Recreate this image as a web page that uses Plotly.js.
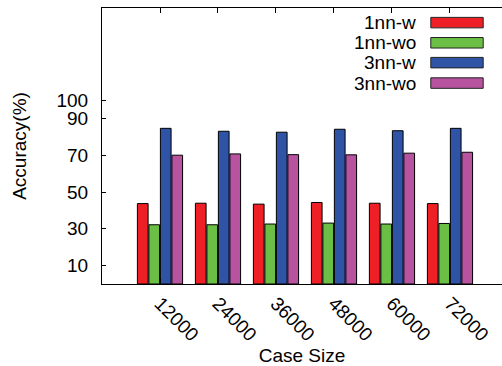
<!DOCTYPE html>
<html>
<head>
<meta charset="utf-8">
<script src="https://cdn.plot.ly/plotly-3.0.1.min.js"></script>
<style>html,body{margin:0;padding:0;background:#fff;}#chart{width:502px;height:366px;}</style>
</head>
<body>
<div id="chart"></div>
<script>
const categories = ["12000", "24000", "36000", "48000", "60000", "72000"];
const seriesNames = ["1nn-w", "1nn-wo", "3nn-w", "3nn-wo"];
const nn1_w  = [43.7, 43.9, 43.4, 44.3, 43.9, 43.7];
const nn1_wo = [32.2, 32.2, 32.6, 33.1, 32.6, 32.9];
const nn3_w  = [84.6, 83.0, 82.5, 84.1, 83.3, 84.6];
const nn3_wo = [70.0, 70.7, 70.3, 70.2, 71.1, 71.6];
const yTicks = [10, 30, 50, 70, 90, 100];

const seriesValues = [nn1_w, nn1_wo, nn3_w, nn3_wo];
const colors = ["#ee1f25", "#6cbf45", "#2f54a5", "#b8539f"];
const FONT = "Liberation Sans, Arial, Helvetica, sans-serif";
const FS = 19;

const traces = seriesNames.map((name, i) => ({
  type: "bar",
  name: name,
  x: categories,
  y: seriesValues[i],
  marker: { color: colors[i], line: { color: "#000", width: 1 } },
  showlegend: false
}));

// custom legend: text right-aligned, swatch on the right
const legendRowsY = [0.947, 0.874, 0.802, 0.728];
const annotations = seriesNames.map((name, i) => ({
  xref: "paper", yref: "paper",
  x: 0.79, y: legendRowsY[i],
  xanchor: "right", yanchor: "middle",
  text: name, showarrow: false,
  font: { family: FONT, size: FS, color: "#000" }
}));
const shapes = seriesNames.map((name, i) => ({
  type: "rect", xref: "paper", yref: "paper",
  x0: 0.822, x1: 0.953,
  y0: legendRowsY[i] - 0.019, y1: legendRowsY[i] + 0.019,
  fillcolor: colors[i], line: { color: "#222", width: 1 }
}));

const layout = {
  width: 502, height: 366,
  margin: { l: 102, r: 0, t: 8, b: 82 },
  paper_bgcolor: "#fff", plot_bgcolor: "#fff",
  font: { family: FONT, size: FS, color: "#000" },
  barmode: "group",
  bargap: 0.207,
  bargroupgap: 0.07,
  showlegend: false,
  xaxis: {
    type: "category",
    range: [-1, 5.897],
    showgrid: false, zeroline: false,
    showline: true, linecolor: "#000", linewidth: 1,
    mirror: "ticks",
    ticks: "inside", ticklen: 5, tickcolor: "#000",
    tickangle: 45,
    tickfont: { family: FONT, size: FS },
    title: { text: "Case Size", font: { family: FONT, size: FS }, standoff: 7 },
    automargin: false, fixedrange: true
  },
  yaxis: {
    range: [0, 150],
    tickvals: yTicks,
    ticktext: yTicks.map(String),
    showgrid: false, zeroline: false,
    showline: true, linecolor: "#000", linewidth: 1,
    ticks: "inside", ticklen: 4, tickcolor: "#000",
    ticklabelstandoff: 9,
    tickfont: { family: FONT, size: FS },
    title: { text: "Accuracy(%)", font: { family: FONT, size: FS }, standoff: 24 },
    automargin: false, fixedrange: true
  },
  annotations: annotations,
  shapes: shapes
};

Plotly.newPlot("chart", traces, layout, { staticPlot: true, displayModeBar: false });
</script>
</body>
</html>
